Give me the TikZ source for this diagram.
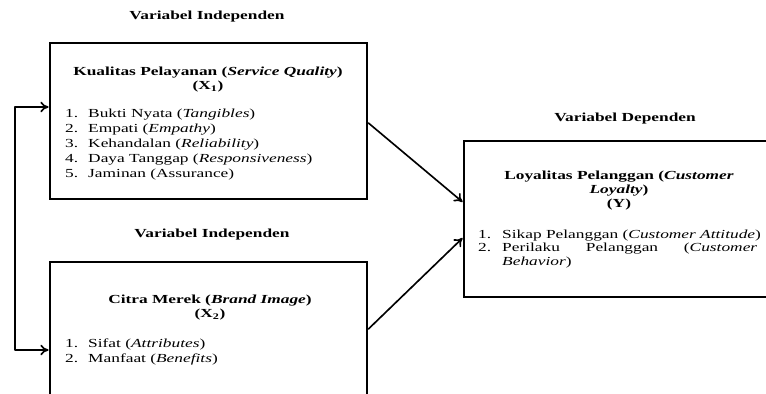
\documentclass[tikz,border=0pt]{standalone}
\usepackage{fontspec}
\setmainfont[FakeStretch=1.41]{Liberation Serif}
\usetikzlibrary{arrows.meta}

\newcommand{\butir}[2][0.69cm]{\makebox[#1][l]{#2}}

\tikzset{
    kotak/.style={draw, line width=2.4pt, line join=miter, inner sep=0pt},
    kelompok/.style={font=\fontsize{10.5}{12}\selectfont\bfseries, inner sep=0pt},
    judul/.style={font=\fontsize{10.5}{12}\selectfont\bfseries, align=center, inner sep=0pt, anchor=north},
    daftar/.style={font=\fontsize{10.5}{12.8}\selectfont, align=left, inner sep=0pt, anchor=north west},
    panah/.style={line width=1.4pt, -{To[length=7pt,width=9pt]}},
}

\begin{document}
\begin{tikzpicture}[x=0.03cm,y=-0.03cm,line cap=round,line join=round]
    \useasboundingbox (0,0) rectangle (766,393);
    \clip (0,0) rectangle (766,393);

    % Kotak variabel
    \node[kotak, minimum width=9.51cm, minimum height=4.68cm] (x1) at (208.5,121) {};
    \node[kotak, minimum width=9.51cm, minimum height=4.74cm] (x2) at (208.5,341) {};
    \node[kotak, minimum width=10.08cm, minimum height=4.68cm] (y) at (632,219) {};

    % Judul kelompok
    \node[kelompok] (indep1) at (207,17) {Variabel Independen};
    \node[kelompok] (indep2) at (212,235) {Variabel Independen};
    \node[kelompok] (dep) at (625,119) {Variabel Dependen};

    % Kualitas pelayanan
    \node[judul] (x1judul) at (208,67)
        {Kualitas Pelayanan (\textit{Service Quality})\\(X\textsubscript{1})};
    \node[daftar] (x1isi) at (65,108.5)
        {\butir{1.}Bukti Nyata (\textit{Tangibles})\\
         \butir{2.}Empati (\textit{Empathy})\\
         \butir{3.}Kehandalan (\textit{Reliability})\\
         \butir{4.}Daya Tanggap (\textit{Responsiveness})\\
         \butir{5.}Jaminan (Assurance)};

    % Citra merek
    \node[judul] (x2judul) at (210,295)
        {Citra Merek (\textit{Brand Image})\\(X\textsubscript{2})};
    \node[daftar] (x2isi) at (65,339)
        {\butir{1.}Sifat (\textit{Attributes})\\
         \butir{2.}Manfaat (\textit{Benefits})};

    % Loyalitas pelanggan
    \node[judul] (yjudul) at (619,171)
        {Loyalitas Pelanggan (\textit{Customer}\\\textit{Loyalty})\\(Y)};
    \node[daftar, font=\fontsize{10.5}{11.5}\selectfont] (yisi) at (478,229.5)
        {\butir[0.72cm]{1.}Sikap Pelanggan (\textit{Customer Attitude})\\
         \butir[0.72cm]{2.}\makebox[7.65cm][s]{Perilaku Pelanggan (\textit{Customer}}\\
         \hspace*{0.72cm}\textit{Behavior})};

    % Panah
    \coordinate (balik) at (15,107);
    \coordinate (balikbawah) at (15,350);
    \draw[panah] (balik) -- (x1.west |- balik);
    \draw[panah] (balik) -- (balikbawah) -- (x2.west |- balikbawah);
    \draw[panah] ([yshift=-0.06cm]x1.east) -- ([yshift=0.51cm]y.west);
    \draw[panah] ([yshift=0.36cm]x2.east) -- ([yshift=-0.57cm]y.west);
\end{tikzpicture}
\end{document}
